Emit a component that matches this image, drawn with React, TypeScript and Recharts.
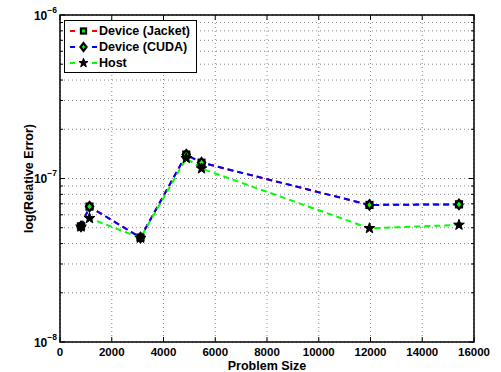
import React from 'react';
import { LineChart, Line, XAxis, YAxis, CartesianGrid, ReferenceArea, Legend } from 'recharts';

// ---- data ----
const PROBLEM_SIZE = [812, 1140, 3110, 4880, 5470, 11960, 15420];
const DEVICE_JACKET = [5.1e-8, 6.73e-8, 4.35e-8, 1.4e-7, 1.25e-7, 6.89e-8, 6.95e-8];
const DEVICE_CUDA = [5.1e-8, 6.73e-8, 4.35e-8, 1.4e-7, 1.25e-7, 6.89e-8, 6.95e-8];
const HOST = [5.07e-8, 5.71e-8, 4.33e-8, 1.33e-7, 1.15e-7, 4.96e-8, 5.2e-8];

const X_TICKS = [0, 2000, 4000, 6000, 8000, 10000, 12000, 14000, 16000];
const Y_DECADES = [-8, -7, -6];
const Y_MINOR_MULTS = [2, 3, 4, 5, 6, 7, 8, 9];

const SERIES = [
  { key: 'jacket', name: 'Device (Jacket)', color: '#ff0000', marker: 'square' },
  { key: 'cuda', name: 'Device (CUDA)', color: '#0000ff', marker: 'diamond' },
  { key: 'host', name: 'Host', color: '#00ff00', marker: 'star' },
];

const data = PROBLEM_SIZE.map((x, i) => ({
  x,
  jacket: DEVICE_JACKET[i],
  cuda: DEVICE_CUDA[i],
  host: HOST[i],
}));

const Y_TICKS: number[] = [];
Y_DECADES.forEach((d, i) => {
  Y_TICKS.push(Math.pow(10, d));
  if (i < Y_DECADES.length - 1) Y_MINOR_MULTS.forEach((m) => Y_TICKS.push(m * Math.pow(10, d)));
});

// ---- layout ----
const W = 501;
const H = 372;
const PL = 60;
const PR = 474;
const PT = 15;
const PB = 342;
const FONT = '"Liberation Sans", Arial, Helvetica, sans-serif';

const Marker = ({ type, cx, cy, s = 1 }: { type: string; cx: number; cy: number; s?: number }) => {
  if (type === 'square') {
    const h = 3 * s;
    return <rect x={cx - h} y={cy - h} width={2 * h} height={2 * h} fill="#00ff00" stroke="#000" strokeWidth={2.2} />;
  }
  if (type === 'diamond') {
    const a = 3.6 * s, b = 4.6 * s;
    return (
      <polygon
        points={`${cx},${cy - b} ${cx + a},${cy} ${cx},${cy + b} ${cx - a},${cy}`}
        fill="#00ff00"
        stroke="#000"
        strokeWidth={2.2}
      />
    );
  }
  const pts: string[] = [];
  const R = 5.6 * s, r = 2.3 * s;
  for (let k = 0; k < 10; k++) {
    const ang = -Math.PI / 2 + (k * Math.PI) / 5;
    const rad = k % 2 === 0 ? R : r;
    pts.push(`${cx + rad * Math.cos(ang)},${cy + rad * Math.sin(ang)}`);
  }
  return <polygon points={pts.join(' ')} fill="#000" stroke="#000" strokeWidth={1} strokeLinejoin="miter" />;
};

const makeDot = (type: string) => (props: any) => {
  const { cx, cy, index } = props;
  if (cx == null || cy == null) return <g key={`d-${type}-${index}`} />;
  return (
    <g key={`d-${type}-${index}`}>
      <Marker type={type} cx={cx} cy={cy} />
    </g>
  );
};

const XTick = (props: any) => {
  const { x, payload } = props;
  return (
    <g>
      <line x1={x} x2={x} y1={PB} y2={PB - 5} stroke="#000" />
      <line x1={x} x2={x} y1={PT} y2={PT + 5} stroke="#000" />
      <text x={x} y={356} textAnchor="middle" fontFamily={FONT} fontWeight="bold" fontSize={11.5} fill="#000">
        {payload.value}
      </text>
    </g>
  );
};

const YTick = (props: any) => {
  const { y, payload } = props;
  const v = payload.value as number;
  const e = Math.log10(v);
  const major = Math.abs(e - Math.round(e)) < 1e-6;
  const len = major ? 5 : 3;
  return (
    <g>
      <line x1={PL} x2={PL + len} y1={y} y2={y} stroke="#000" />
      <line x1={PR} x2={PR - len} y1={y} y2={y} stroke="#000" />
      {major && (
        <text x={57} y={y + 4.5} textAnchor="end" fontFamily={FONT} fontWeight="bold" fontSize={12} fill="#000">
          10
          <tspan dy={-7} fontSize={8.5}>
            {'\u2212' + Math.abs(Math.round(e))}
          </tspan>
        </text>
      )}
    </g>
  );
};

const LegendBox = () => (
  <div
    style={{
      border: '1.5px solid #000',
      background: '#fff',
      width: 131,
      height: 49,
      boxSizing: 'content-box',
      fontFamily: FONT,
      fontWeight: 'bold',
      fontSize: 12.5,
      paddingTop: 2,
    }}
  >
    {SERIES.map((s) => (
      <div key={s.key} style={{ display: 'flex', alignItems: 'center', height: 16, whiteSpace: 'nowrap' }}>
        <svg width={34} height={16} style={{ display: 'block' }}>
          <line x1={5} x2={32} y1={8} y2={8} stroke={s.color} strokeWidth={2} strokeDasharray="5 17 5" />
          <Marker type={s.marker} cx={18.5} cy={8} s={0.85} />
        </svg>
        <span>{s.name}</span>
      </div>
    ))}
  </div>
);

export default function App() {
  return (
    <div style={{ position: 'absolute', left: 0, top: 0, width: W, height: H, background: '#fff' }}>
      <LineChart width={W} height={H} data={data} margin={{ top: PT, right: W - PR, left: 0, bottom: 0 }}>
        <CartesianGrid stroke="#888" strokeDasharray="1 3" strokeWidth={1} />
        <XAxis
          dataKey="x"
          type="number"
          domain={[0, 16000]}
          ticks={X_TICKS}
          interval={0}
          height={H - PB}
          axisLine={false}
          tickLine={false}
          tick={<XTick />}
          allowDataOverflow
          label={{
            value: 'Problem Size',
            position: 'insideBottom',
            offset: 2.5,
            style: { fontFamily: FONT, fontWeight: 'bold', fontSize: 12.5, fill: '#000' },
          }}
        />
        <YAxis
          type="number"
          scale="log"
          domain={[1e-8, 1e-6]}
          ticks={Y_TICKS}
          interval={0}
          width={PL}
          axisLine={false}
          tickLine={false}
          tick={<YTick />}
          allowDataOverflow
          label={{
            value: 'log(Relative Error)',
            angle: -90,
            position: 'center',
            dx: -1,
            style: { fontFamily: FONT, fontWeight: 'bold', fontSize: 12.5, fill: '#000', textAnchor: 'middle' },
          }}
        />
        <ReferenceArea
          x1={0}
          x2={16000}
          y1={1e-8}
          y2={1e-6}
          fill="none"
          fillOpacity={0}
          stroke="#000"
          strokeWidth={1.5}
          ifOverflow="visible"
        />
        {SERIES.map((s) => (
          <Line
            key={s.key}
            dataKey={s.key}
            name={s.name}
            type="linear"
            stroke={s.color}
            strokeWidth={2}
            strokeDasharray="6 4"
            dot={makeDot(s.marker)}
            activeDot={false}
            isAnimationActive={false}
          />
        ))}
        <Legend
          layout="vertical"
          align="center"
          verticalAlign="middle"
          content={<LegendBox />}
          wrapperStyle={{ position: 'absolute', left: 64, top: 20, width: 134, height: 52 }}
        />
      </LineChart>
    </div>
  );
}
